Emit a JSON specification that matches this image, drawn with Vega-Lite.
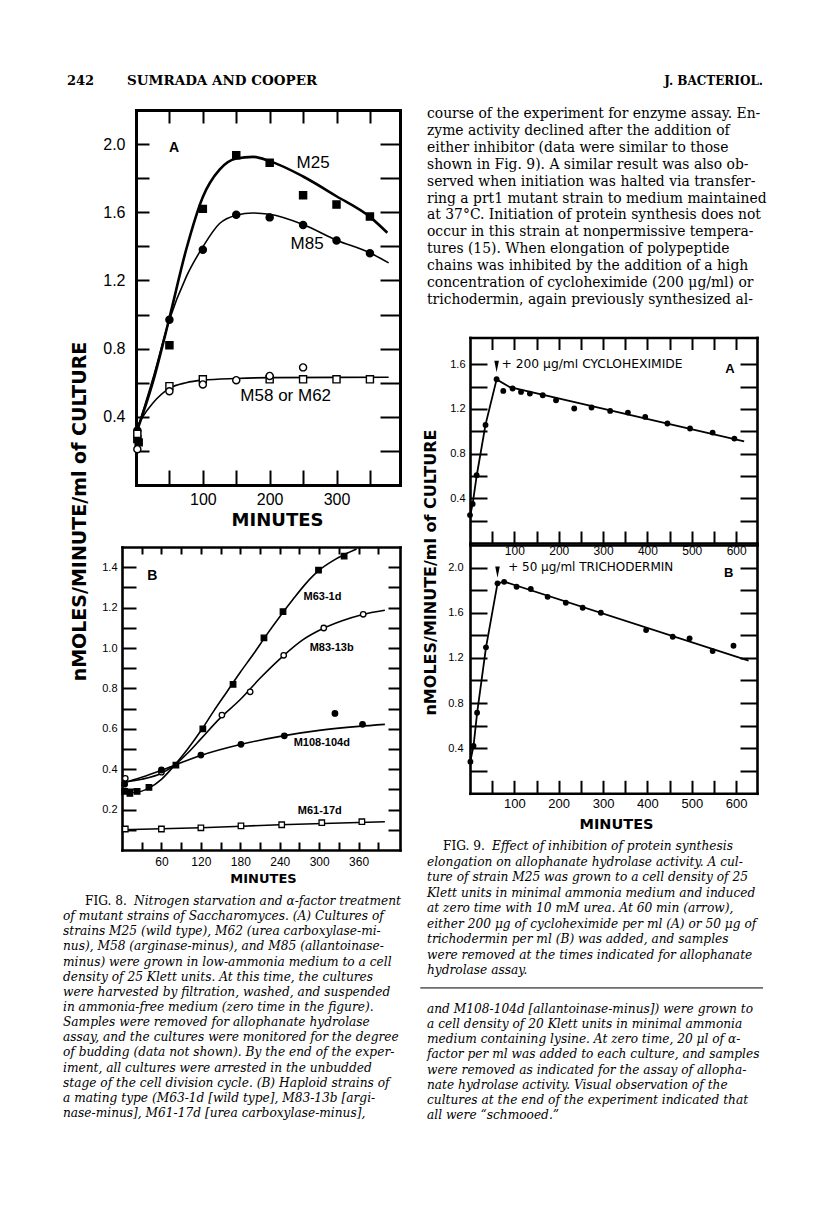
{
  "$schema": "https://vega.github.io/schema/vega-lite/v6.json",
  "width": 816,
  "height": 1232,
  "autosize": {"type": "none"},
  "padding": 0,
  "background": "white",
  "config": {
    "view": {"stroke": null},
    "axis": {"grid": false, "domainColor": "black", "tickColor": "black", "labelColor": "black", "titleColor": "black", "labelFont": "Liberation Sans", "labelOverlap": false, "labelFlush": false, "domainCap": "square"}
  },
  "datasets": {
    "f8a_pts": [
      {"series": "M25", "t": 2, "v": 0.27}, {"series": "M25", "t": 4, "v": 0.25}, {"series": "M25", "t": 50, "v": 0.82}, {"series": "M25", "t": 100, "v": 1.62}, {"series": "M25", "t": 150, "v": 1.935}, {"series": "M25", "t": 200, "v": 1.89}, {"series": "M25", "t": 250, "v": 1.70}, {"series": "M25", "t": 300, "v": 1.645}, {"series": "M25", "t": 350, "v": 1.575},
      {"series": "M85", "t": 2, "v": 0.32}, {"series": "M85", "t": 50, "v": 0.97}, {"series": "M85", "t": 100, "v": 1.38}, {"series": "M85", "t": 150, "v": 1.585}, {"series": "M85", "t": 200, "v": 1.57}, {"series": "M85", "t": 250, "v": 1.525}, {"series": "M85", "t": 300, "v": 1.435}, {"series": "M85", "t": 350, "v": 1.36},
      {"series": "M62", "t": 2, "v": 0.3}, {"series": "M62", "t": 50, "v": 0.58}, {"series": "M62", "t": 100, "v": 0.62}, {"series": "M62", "t": 200, "v": 0.62}, {"series": "M62", "t": 250, "v": 0.62}, {"series": "M62", "t": 300, "v": 0.62}, {"series": "M62", "t": 350, "v": 0.62},
      {"series": "M58", "t": 2, "v": 0.21}, {"series": "M58", "t": 50, "v": 0.55}, {"series": "M58", "t": 100, "v": 0.59}, {"series": "M58", "t": 150, "v": 0.615}, {"series": "M58", "t": 200, "v": 0.64}, {"series": "M58", "t": 250, "v": 0.69}
    ],
    "f8a_fit": [
      {"series": "M25", "t": 0, "v": 0.3}, {"series": "M25", "t": 25, "v": 0.6}, {"series": "M25", "t": 50, "v": 0.98}, {"series": "M25", "t": 75, "v": 1.38}, {"series": "M25", "t": 100, "v": 1.69}, {"series": "M25", "t": 125, "v": 1.85}, {"series": "M25", "t": 150, "v": 1.915}, {"series": "M25", "t": 175, "v": 1.925}, {"series": "M25", "t": 200, "v": 1.9}, {"series": "M25", "t": 250, "v": 1.81}, {"series": "M25", "t": 300, "v": 1.694}, {"series": "M25", "t": 350, "v": 1.573}, {"series": "M25", "t": 376, "v": 1.48},
      {"series": "M85", "t": 0, "v": 0.3}, {"series": "M85", "t": 25, "v": 0.62}, {"series": "M85", "t": 50, "v": 0.97}, {"series": "M85", "t": 75, "v": 1.22}, {"series": "M85", "t": 100, "v": 1.397}, {"series": "M85", "t": 125, "v": 1.534}, {"series": "M85", "t": 150, "v": 1.583}, {"series": "M85", "t": 175, "v": 1.596}, {"series": "M85", "t": 200, "v": 1.588}, {"series": "M85", "t": 250, "v": 1.528}, {"series": "M85", "t": 300, "v": 1.436}, {"series": "M85", "t": 350, "v": 1.362}, {"series": "M85", "t": 378, "v": 1.303},
      {"series": "M58 or M62", "t": 0, "v": 0.33}, {"series": "M58 or M62", "t": 10, "v": 0.4}, {"series": "M58 or M62", "t": 25, "v": 0.48}, {"series": "M58 or M62", "t": 50, "v": 0.567}, {"series": "M58 or M62", "t": 75, "v": 0.6}, {"series": "M58 or M62", "t": 100, "v": 0.615}, {"series": "M58 or M62", "t": 150, "v": 0.625}, {"series": "M58 or M62", "t": 200, "v": 0.63}, {"series": "M58 or M62", "t": 378, "v": 0.632}
    ],
    "f8a_lab": [
      {"text": "M25", "t": 265, "v": 1.889}, {"text": "M85", "t": 256, "v": 1.411}, {"text": "M58 or M62", "t": 224, "v": 0.522}
    ],
    "f8a_letter": [{"text": "A", "t": 57, "v": 1.98}],
    "f8b_pts": [
      {"series": "M63-1d", "t": 4, "v": 0.29}, {"series": "M63-1d", "t": 12, "v": 0.28}, {"series": "M63-1d", "t": 23, "v": 0.29}, {"series": "M63-1d", "t": 41, "v": 0.31}, {"series": "M63-1d", "t": 82, "v": 0.42}, {"series": "M63-1d", "t": 123, "v": 0.6}, {"series": "M63-1d", "t": 169, "v": 0.82}, {"series": "M63-1d", "t": 216, "v": 1.05}, {"series": "M63-1d", "t": 245, "v": 1.18}, {"series": "M63-1d", "t": 299, "v": 1.385}, {"series": "M63-1d", "t": 338, "v": 1.455},
      {"series": "M83-13b", "t": 5, "v": 0.355}, {"series": "M83-13b", "t": 60, "v": 0.385}, {"series": "M83-13b", "t": 152, "v": 0.668}, {"series": "M83-13b", "t": 195, "v": 0.783}, {"series": "M83-13b", "t": 246, "v": 0.964}, {"series": "M83-13b", "t": 307, "v": 1.099}, {"series": "M83-13b", "t": 367, "v": 1.167},
      {"series": "M108-104d", "t": 4, "v": 0.326}, {"series": "M108-104d", "t": 60, "v": 0.396}, {"series": "M108-104d", "t": 120, "v": 0.47}, {"series": "M108-104d", "t": 181, "v": 0.523}, {"series": "M108-104d", "t": 247, "v": 0.565}, {"series": "M108-104d", "t": 324, "v": 0.676}, {"series": "M108-104d", "t": 366, "v": 0.622},
      {"series": "M61-17d", "t": 5, "v": 0.104}, {"series": "M61-17d", "t": 60, "v": 0.104}, {"series": "M61-17d", "t": 120, "v": 0.11}, {"series": "M61-17d", "t": 181, "v": 0.119}, {"series": "M61-17d", "t": 243, "v": 0.125}, {"series": "M61-17d", "t": 304, "v": 0.135}, {"series": "M61-17d", "t": 365, "v": 0.14}
    ],
    "f8b_fit": [
      {"series": "M63-1d", "t": 0, "v": 0.29}, {"series": "M63-1d", "t": 20, "v": 0.285}, {"series": "M63-1d", "t": 40, "v": 0.305}, {"series": "M63-1d", "t": 60, "v": 0.35}, {"series": "M63-1d", "t": 80, "v": 0.42}, {"series": "M63-1d", "t": 100, "v": 0.5}, {"series": "M63-1d", "t": 120, "v": 0.59}, {"series": "M63-1d", "t": 140, "v": 0.69}, {"series": "M63-1d", "t": 160, "v": 0.785}, {"series": "M63-1d", "t": 180, "v": 0.88}, {"series": "M63-1d", "t": 200, "v": 0.97}, {"series": "M63-1d", "t": 220, "v": 1.065}, {"series": "M63-1d", "t": 240, "v": 1.155}, {"series": "M63-1d", "t": 260, "v": 1.24}, {"series": "M63-1d", "t": 280, "v": 1.32}, {"series": "M63-1d", "t": 300, "v": 1.385}, {"series": "M63-1d", "t": 320, "v": 1.43}, {"series": "M63-1d", "t": 340, "v": 1.465}, {"series": "M63-1d", "t": 357, "v": 1.49},
      {"series": "M83-13b", "t": 0, "v": 0.335}, {"series": "M83-13b", "t": 30, "v": 0.35}, {"series": "M83-13b", "t": 60, "v": 0.38}, {"series": "M83-13b", "t": 80, "v": 0.42}, {"series": "M83-13b", "t": 100, "v": 0.48}, {"series": "M83-13b", "t": 120, "v": 0.55}, {"series": "M83-13b", "t": 150, "v": 0.655}, {"series": "M83-13b", "t": 180, "v": 0.745}, {"series": "M83-13b", "t": 210, "v": 0.85}, {"series": "M83-13b", "t": 245, "v": 0.96}, {"series": "M83-13b", "t": 275, "v": 1.04}, {"series": "M83-13b", "t": 305, "v": 1.095}, {"series": "M83-13b", "t": 335, "v": 1.135}, {"series": "M83-13b", "t": 365, "v": 1.165}, {"series": "M83-13b", "t": 400, "v": 1.187},
      {"series": "M108-104d", "t": 0, "v": 0.33}, {"series": "M108-104d", "t": 30, "v": 0.36}, {"series": "M108-104d", "t": 60, "v": 0.395}, {"series": "M108-104d", "t": 80, "v": 0.42}, {"series": "M108-104d", "t": 120, "v": 0.468}, {"series": "M108-104d", "t": 180, "v": 0.522}, {"series": "M108-104d", "t": 245, "v": 0.565}, {"series": "M108-104d", "t": 300, "v": 0.592}, {"series": "M108-104d", "t": 360, "v": 0.612}, {"series": "M108-104d", "t": 400, "v": 0.622},
      {"series": "M61-17d", "t": 0, "v": 0.1}, {"series": "M61-17d", "t": 120, "v": 0.11}, {"series": "M61-17d", "t": 240, "v": 0.125}, {"series": "M61-17d", "t": 400, "v": 0.14}
    ],
    "f8b_lab": [
      {"text": "M63-1d", "t": 305, "v": 1.253}, {"text": "M83-13b", "t": 319, "v": 1.0}, {"text": "M108-104d", "t": 304, "v": 0.528}, {"text": "M61-17d", "t": 301, "v": 0.193}
    ],
    "f8b_letter": [{"text": "B", "t": 46, "v": 1.355}],
    "f9a_pts": [
      {"t": 0, "v": 0.25}, {"t": 6, "v": 0.35}, {"t": 15, "v": 0.607}, {"t": 35, "v": 1.057}, {"t": 60, "v": 1.466}, {"t": 75, "v": 1.362}, {"t": 96, "v": 1.383}, {"t": 115, "v": 1.353}, {"t": 135, "v": 1.338}, {"t": 164, "v": 1.323}, {"t": 194, "v": 1.278}, {"t": 235, "v": 1.204}, {"t": 274, "v": 1.213}, {"t": 316, "v": 1.183}, {"t": 356, "v": 1.168}, {"t": 395, "v": 1.129}, {"t": 445, "v": 1.07}, {"t": 496, "v": 1.025}, {"t": 547, "v": 0.989}, {"t": 596, "v": 0.935}
    ],
    "f9a_fit": [
      {"t": 0, "v": 0.24}, {"t": 6, "v": 0.35}, {"t": 15, "v": 0.6}, {"t": 35, "v": 1.06}, {"t": 60, "v": 1.465}, {"t": 90, "v": 1.395}, {"t": 618, "v": 0.91}
    ],
    "f9a_arrow": [{"t": 60, "v": 1.58}],
    "f9a_lab": [{"text": "+ 200 μg/ml CYCLOHEXIMIDE", "t": 71, "v": 1.6}],
    "f9a_letter": [{"text": "A", "t": 586, "v": 1.562}],
    "f9b_pts": [
      {"t": 1, "v": 0.28}, {"t": 8, "v": 0.419}, {"t": 16, "v": 0.714}, {"t": 36, "v": 1.293}, {"t": 62, "v": 1.86}, {"t": 77, "v": 1.874}, {"t": 105, "v": 1.83}, {"t": 137, "v": 1.81}, {"t": 175, "v": 1.741}, {"t": 216, "v": 1.688}, {"t": 254, "v": 1.644}, {"t": 295, "v": 1.6}, {"t": 397, "v": 1.446}, {"t": 457, "v": 1.387}, {"t": 495, "v": 1.373}, {"t": 547, "v": 1.26}, {"t": 594, "v": 1.307}
    ],
    "f9b_fit": [
      {"t": 0, "v": 0.27}, {"t": 8, "v": 0.42}, {"t": 16, "v": 0.71}, {"t": 36, "v": 1.29}, {"t": 62, "v": 1.86}, {"t": 77, "v": 1.875}, {"t": 628, "v": 1.175}
    ],
    "f9b_arrow": [{"t": 62, "v": 1.96}],
    "f9b_lab": [{"text": "+ 50 μg/ml TRICHODERMIN", "t": 86, "v": 2.005}],
    "f9b_letter": [{"text": "B", "t": 583, "v": 1.95}],
    "header": [
      {"part": "folio", "text": "242"},
      {"part": "running", "text": "SUMRADA AND COOPER"},
      {"part": "journal", "text": "J. BACTERIOL."}
    ],
    "body_right": [
      {"line": 1, "text": "course of the experiment for enzyme assay. En-"},
      {"line": 2, "text": "zyme activity declined after the addition of"},
      {"line": 3, "text": "either inhibitor (data were similar to those"},
      {"line": 4, "text": "shown in Fig. 9). A similar result was also ob-"},
      {"line": 5, "text": "served when initiation was halted via transfer-"},
      {"line": 6, "text": "ring a prt1 mutant strain to medium maintained"},
      {"line": 7, "text": "at 37°C. Initiation of protein synthesis does not"},
      {"line": 8, "text": "occur in this strain at nonpermissive tempera-"},
      {"line": 9, "text": "tures (15). When elongation of polypeptide"},
      {"line": 10, "text": "chains was inhibited by the addition of a high"},
      {"line": 11, "text": "concentration of cycloheximide (200 μg/ml) or"},
      {"line": 12, "text": "trichodermin, again previously synthesized al-"}
    ],
    "cap8": [
      {"line": 1, "part": "label", "text": "FIG. 8."},
      {"line": 1, "part": "lead", "text": "Nitrogen starvation and α-factor treatment"},
      {"line": 2, "part": "body", "text": "of mutant strains of Saccharomyces. (A) Cultures of"},
      {"line": 3, "part": "body", "text": "strains M25 (wild type), M62 (urea carboxylase-mi-"},
      {"line": 4, "part": "body", "text": "nus), M58 (arginase-minus), and M85 (allantoinase-"},
      {"line": 5, "part": "body", "text": "minus) were grown in low-ammonia medium to a cell"},
      {"line": 6, "part": "body", "text": "density of 25 Klett units. At this time, the cultures"},
      {"line": 7, "part": "body", "text": "were harvested by filtration, washed, and suspended"},
      {"line": 8, "part": "body", "text": "in ammonia-free medium (zero time in the figure)."},
      {"line": 9, "part": "body", "text": "Samples were removed for allophanate hydrolase"},
      {"line": 10, "part": "body", "text": "assay, and the cultures were monitored for the degree"},
      {"line": 11, "part": "body", "text": "of budding (data not shown). By the end of the exper-"},
      {"line": 12, "part": "body", "text": "iment, all cultures were arrested in the unbudded"},
      {"line": 13, "part": "body", "text": "stage of the cell division cycle. (B) Haploid strains of"},
      {"line": 14, "part": "body", "text": "a mating type (M63-1d [wild type], M83-13b [argi-"},
      {"line": 15, "part": "body", "text": "nase-minus], M61-17d [urea carboxylase-minus],"}
    ],
    "cap9": [
      {"line": 1, "part": "label", "text": "FIG. 9."},
      {"line": 1, "part": "lead", "text": "Effect of inhibition of protein synthesis"},
      {"line": 2, "part": "body", "text": "elongation on allophanate hydrolase activity. A cul-"},
      {"line": 3, "part": "body", "text": "ture of strain M25 was grown to a cell density of 25"},
      {"line": 4, "part": "body", "text": "Klett units in minimal ammonia medium and induced"},
      {"line": 5, "part": "body", "text": "at zero time with 10 mM urea. At 60 min (arrow),"},
      {"line": 6, "part": "body", "text": "either 200 μg of cycloheximide per ml (A) or 50 μg of"},
      {"line": 7, "part": "body", "text": "trichodermin per ml (B) was added, and samples"},
      {"line": 8, "part": "body", "text": "were removed at the times indicated for allophanate"},
      {"line": 9, "part": "body", "text": "hydrolase assay."}
    ],
    "cont8": [
      {"line": 1, "text": "and M108-104d [allantoinase-minus]) were grown to"},
      {"line": 2, "text": "a cell density of 20 Klett units in minimal ammonia"},
      {"line": 3, "text": "medium containing lysine. At zero time, 20 μl of α-"},
      {"line": 4, "text": "factor per ml was added to each culture, and samples"},
      {"line": 5, "text": "were removed as indicated for the assay of allopha-"},
      {"line": 6, "text": "nate hydrolase activity. Visual observation of the"},
      {"line": 7, "text": "cultures at the end of the experiment indicated that"},
      {"line": 8, "text": "all were “schmooed.”"}
    ]
  },
  "layer": [
    {
      "layer": [
        {
          "data": {"name": "f8a_fit"},
          "transform": [{"filter": "datum.series === 'M25'"}],
          "mark": {"type": "line", "interpolate": "monotone", "color": "black", "strokeWidth": 2.6},
          "encoding": {
            "x": {"field": "t", "type": "quantitative", "scale": {"domain": [0, 395], "range": [136, 400], "nice": false, "zero": false},
              "axis": {"orient": "top", "offset": -110, "values": [50, 100, 150, 200, 250, 300, 350], "labels": false, "tickSize": -13, "tickWidth": 2, "domainWidth": 3, "title": null}},
            "y": {"field": "v", "type": "quantitative", "scale": {"domain": [0, 2.2], "range": [485, 110], "nice": false, "zero": false},
              "axis": {"orient": "right", "offset": -416, "values": [0.2, 0.4, 0.6, 0.8, 1.0, 1.2, 1.4, 1.6, 1.8, 2.0], "labels": false, "tickSize": -20, "tickWidth": 2, "domainWidth": 3, "title": null}},
            "detail": {"field": "series"}
          }
        },
        {
          "data": {"name": "f8a_fit"},
          "transform": [{"filter": "datum.series !== 'M25'"}],
          "mark": {"type": "line", "interpolate": "monotone", "color": "black", "strokeWidth": 1.6},
          "encoding": {
            "x": {"field": "t", "type": "quantitative", "axis": null},
            "y": {"field": "v", "type": "quantitative", "axis": null},
            "detail": {"field": "series"}
          }
        },
        {
          "data": {"name": "f8a_pts"},
          "mark": {"type": "point", "filled": true, "size": 50, "stroke": "black", "strokeWidth": 1.4, "opacity": 1},
          "encoding": {
            "x": {"field": "t", "type": "quantitative",
              "axis": {"orient": "bottom", "offset": -747, "values": [50, 100, 150, 200, 250, 300, 350], "format": "d", "labelExpr": "datum.value % 100 === 0 ? datum.label : ''", "tickSize": -15, "tickWidth": 2, "labelPadding": 21, "labelFontSize": 16, "domainWidth": 3,
                "title": "MINUTES", "titleFont": "DejaVu Sans", "titleFontSize": 18, "titleFontWeight": "bold", "titleX": 277, "titleY": 40, "titleAlign": "center", "titleBaseline": "alphabetic", "titleAngle": 0}},
            "y": {"field": "v", "type": "quantitative",
              "axis": {"orient": "left", "offset": -136, "values": [0.2, 0.4, 0.6, 0.8, 1.0, 1.2, 1.4, 1.6, 1.8, 2.0], "format": ".1f", "labelExpr": "round(datum.value*10) % 4 === 0 ? datum.label : ''", "tickSize": -13, "tickWidth": 2, "labelPadding": 24, "labelFontSize": 16, "domainWidth": 3,
                "title": "nMOLES/MINUTE/ml of CULTURE", "titleFont": "DejaVu Sans", "titleFontSize": 19, "titleFontWeight": "bold", "titleX": -51, "titleY": 511, "titleAngle": 270, "titleAlign": "center", "titleBaseline": "alphabetic"}},
            "shape": {"field": "series", "type": "nominal", "scale": {"domain": ["M25", "M85", "M62", "M58"], "range": ["square", "circle", "square", "circle"]}, "legend": null},
            "fill": {"field": "series", "type": "nominal", "scale": {"domain": ["M25", "M85", "M62", "M58"], "range": ["black", "black", "white", "white"]}, "legend": null}
          }
        },
        {
          "data": {"name": "f8a_lab"},
          "mark": {"type": "text", "font": "Liberation Sans", "fontSize": 17, "align": "center", "baseline": "middle", "color": "black"},
          "encoding": {
            "x": {"field": "t", "type": "quantitative", "axis": null},
            "y": {"field": "v", "type": "quantitative", "axis": null},
            "text": {"field": "text"}
          }
        },
        {
          "data": {"name": "f8a_letter"},
          "mark": {"type": "text", "font": "Liberation Sans", "fontSize": 14, "fontWeight": "bold", "align": "center", "baseline": "middle", "color": "black"},
          "encoding": {
            "x": {"field": "t", "type": "quantitative", "axis": null},
            "y": {"field": "v", "type": "quantitative", "axis": null},
            "text": {"field": "text"}
          }
        }
      ],
      "resolve": {"axis": {"x": "independent", "y": "independent"}}
    },
    {
      "layer": [
        {
          "data": {"name": "f8b_fit"},
          "mark": {"type": "line", "interpolate": "monotone", "color": "black", "strokeWidth": 1.6},
          "encoding": {
            "x": {"field": "t", "type": "quantitative", "scale": {"domain": [0, 423], "range": [122, 400], "nice": false, "zero": false},
              "axis": {"orient": "top", "offset": -547, "values": [30, 60, 90, 120, 150, 180, 210, 240, 270, 300, 330, 360, 390], "labels": false, "tickSize": -7, "tickWidth": 2, "domainWidth": 2.6, "title": null}},
            "y": {"field": "v", "type": "quantitative", "scale": {"domain": [0, 1.5], "range": [850, 547], "nice": false, "zero": false},
              "axis": {"orient": "right", "offset": -416, "values": [0.1, 0.2, 0.3, 0.4, 0.5, 0.6, 0.7, 0.8, 0.9, 1.0, 1.1, 1.2, 1.3, 1.4], "labels": false, "tickSize": -12, "tickWidth": 2, "domainWidth": 2.6, "title": null}},
            "detail": {"field": "series"}
          }
        },
        {
          "data": {"name": "f8b_pts"},
          "mark": {"type": "point", "filled": true, "size": 30, "stroke": "black", "strokeWidth": 1.3, "opacity": 1},
          "encoding": {
            "x": {"field": "t", "type": "quantitative",
              "axis": {"orient": "bottom", "offset": -382, "values": [30, 60, 90, 120, 150, 180, 210, 240, 270, 300, 330, 360, 390], "format": "d", "labelExpr": "datum.value % 60 === 0 ? datum.label : ''", "tickSize": -8, "tickWidth": 2, "labelPadding": 14, "labelFontSize": 12, "domainWidth": 2.6,
                "title": "MINUTES", "titleFont": "DejaVu Sans", "titleFontSize": 13, "titleFontWeight": "bold", "titleX": 263, "titleY": 32, "titleAlign": "center", "titleBaseline": "alphabetic", "titleAngle": 0}},
            "y": {"field": "v", "type": "quantitative",
              "axis": {"orient": "left", "offset": -122, "values": [0.1, 0.2, 0.3, 0.4, 0.5, 0.6, 0.7, 0.8, 0.9, 1.0, 1.1, 1.2, 1.3, 1.4], "format": ".1f", "labelExpr": "round(datum.value*10) % 2 === 0 ? datum.label : ''", "tickSize": -14, "tickWidth": 2, "labelPadding": 19, "labelFontSize": 11, "domainWidth": 2.6, "title": null}},
            "shape": {"field": "series", "type": "nominal", "scale": {"domain": ["M63-1d", "M83-13b", "M108-104d", "M61-17d"], "range": ["square", "circle", "circle", "square"]}, "legend": null},
            "fill": {"field": "series", "type": "nominal", "scale": {"domain": ["M63-1d", "M83-13b", "M108-104d", "M61-17d"], "range": ["black", "white", "black", "white"]}, "legend": null}
          }
        },
        {
          "data": {"name": "f8b_lab"},
          "mark": {"type": "text", "font": "Liberation Sans", "fontSize": 11, "fontWeight": "bold", "align": "center", "baseline": "middle", "color": "black"},
          "encoding": {
            "x": {"field": "t", "type": "quantitative", "axis": null},
            "y": {"field": "v", "type": "quantitative", "axis": null},
            "text": {"field": "text"}
          }
        },
        {
          "data": {"name": "f8b_letter"},
          "mark": {"type": "text", "font": "Liberation Sans", "fontSize": 14, "fontWeight": "bold", "align": "center", "baseline": "middle", "color": "black"},
          "encoding": {
            "x": {"field": "t", "type": "quantitative", "axis": null},
            "y": {"field": "v", "type": "quantitative", "axis": null},
            "text": {"field": "text"}
          }
        }
      ],
      "resolve": {"axis": {"x": "independent", "y": "independent"}}
    },
    {
      "layer": [
        {
          "data": {"name": "f9a_fit"},
          "mark": {"type": "line", "color": "black", "strokeWidth": 1.8},
          "encoding": {
            "x": {"field": "t", "type": "quantitative", "scale": {"domain": [0, 647], "range": [470, 757], "nice": false, "zero": false},
              "axis": {"orient": "top", "offset": -337.5, "values": [50, 100, 150, 200, 250, 300, 350, 400, 450, 500, 550, 600], "labels": false, "tickSize": -12, "tickWidth": 2, "domainWidth": 2.6, "title": null}},
            "y": {"field": "v", "type": "quantitative", "scale": {"domain": [0, 1.84], "range": [543, 337.5], "nice": false, "zero": false},
              "axis": {"orient": "right", "offset": -59, "values": [0.2, 0.4, 0.6, 0.8, 1.0, 1.2, 1.4, 1.6], "labels": false, "tickSize": -17, "tickWidth": 2, "domainWidth": 2.6, "title": null}}
          }
        },
        {
          "data": {"name": "f9a_pts"},
          "mark": {"type": "point", "filled": true, "shape": "circle", "size": 34, "color": "black", "opacity": 1},
          "encoding": {
            "x": {"field": "t", "type": "quantitative",
              "axis": {"orient": "bottom", "offset": -689, "values": [50, 100, 150, 200, 250, 300, 350, 400, 450, 500, 550, 600], "format": "d", "labelExpr": "datum.value % 100 === 0 ? datum.label : ''", "tickSize": -12, "tickWidth": 2, "labelPadding": 14.5, "labelFontSize": 12, "domainWidth": 2.6, "title": null}},
            "y": {"field": "v", "type": "quantitative",
              "axis": {"orient": "left", "offset": -470, "values": [0.2, 0.4, 0.6, 0.8, 1.0, 1.2, 1.4, 1.6], "format": ".1f", "labelExpr": "round(datum.value*10) % 4 === 0 ? datum.label : ''", "tickSize": -17, "tickWidth": 2, "labelPadding": 22, "labelFontSize": 11, "domainWidth": 2.6,
                "title": "nMOLES/MINUTE/ml of CULTURE", "titleFont": "DejaVu Sans", "titleFontSize": 16, "titleFontWeight": "bold", "titleX": -35, "titleY": 572, "titleAngle": 270, "titleAlign": "center", "titleBaseline": "alphabetic"}}
          }
        },
        {
          "data": {"name": "f9a_arrow"},
          "mark": {"type": "point", "filled": true, "shape": "M-0.4,-1L0.4,-1L0,1Z", "size": 130, "color": "black", "opacity": 1},
          "encoding": {
            "x": {"field": "t", "type": "quantitative", "axis": null},
            "y": {"field": "v", "type": "quantitative", "axis": null}
          }
        },
        {
          "data": {"name": "f9a_lab"},
          "mark": {"type": "text", "font": "DejaVu Sans", "fontSize": 12.3, "align": "left", "baseline": "middle", "color": "black"},
          "encoding": {
            "x": {"field": "t", "type": "quantitative", "axis": null},
            "y": {"field": "v", "type": "quantitative", "axis": null},
            "text": {"field": "text"}
          }
        },
        {
          "data": {"name": "f9a_letter"},
          "mark": {"type": "text", "font": "Liberation Sans", "fontSize": 13, "fontWeight": "bold", "align": "center", "baseline": "middle", "color": "black"},
          "encoding": {
            "x": {"field": "t", "type": "quantitative", "axis": null},
            "y": {"field": "v", "type": "quantitative", "axis": null},
            "text": {"field": "text"}
          }
        }
      ],
      "resolve": {"axis": {"x": "independent", "y": "independent"}}
    },
    {
      "layer": [
        {
          "data": {"name": "f9b_fit"},
          "mark": {"type": "line", "color": "black", "strokeWidth": 1.8},
          "encoding": {
            "x": {"field": "t", "type": "quantitative", "scale": {"domain": [0, 647], "range": [470, 757], "nice": false, "zero": false},
              "axis": {"orient": "top", "offset": -545, "values": [50, 100, 150, 200, 250, 300, 350, 400, 450, 500, 550, 600], "labels": false, "ticks": false, "domainWidth": 2.6, "title": null}},
            "y": {"field": "v", "type": "quantitative", "scale": {"domain": [0, 2.2], "range": [793.3, 545], "nice": false, "zero": false},
              "axis": {"orient": "right", "offset": -59, "values": [0.2, 0.4, 0.6, 0.8, 1.0, 1.2, 1.4, 1.6, 1.8, 2.0], "labels": false, "tickSize": -17, "tickWidth": 2, "domainWidth": 2.6, "title": null}}
          }
        },
        {
          "data": {"name": "f9b_pts"},
          "mark": {"type": "point", "filled": true, "shape": "circle", "size": 34, "color": "black", "opacity": 1},
          "encoding": {
            "x": {"field": "t", "type": "quantitative",
              "axis": {"orient": "bottom", "offset": -438.7, "values": [50, 100, 150, 200, 250, 300, 350, 400, 450, 500, 550, 600], "format": "d", "labelExpr": "datum.value % 100 === 0 ? datum.label : ''", "tickSize": -13, "tickWidth": 2, "labelPadding": 17, "labelFontSize": 13, "domainWidth": 2.6,
                "title": "MINUTES", "titleFont": "DejaVu Sans", "titleFontSize": 14.5, "titleFontWeight": "bold", "titleX": 616, "titleY": 35, "titleAlign": "center", "titleBaseline": "alphabetic", "titleAngle": 0}},
            "y": {"field": "v", "type": "quantitative",
              "axis": {"orient": "left", "offset": -470, "values": [0.2, 0.4, 0.6, 0.8, 1.0, 1.2, 1.4, 1.6, 1.8, 2.0], "format": ".1f", "labelExpr": "round(datum.value*10) % 4 === 0 ? datum.label : ''", "tickSize": -17, "tickWidth": 2, "labelPadding": 24, "labelFontSize": 11, "domainWidth": 2.6, "title": null}}
          }
        },
        {
          "data": {"name": "f9b_arrow"},
          "mark": {"type": "point", "filled": true, "shape": "M-0.4,-1L0.4,-1L0,1Z", "size": 130, "color": "black", "opacity": 1},
          "encoding": {
            "x": {"field": "t", "type": "quantitative", "axis": null},
            "y": {"field": "v", "type": "quantitative", "axis": null}
          }
        },
        {
          "data": {"name": "f9b_lab"},
          "mark": {"type": "text", "font": "DejaVu Sans", "fontSize": 12, "align": "left", "baseline": "middle", "color": "black"},
          "encoding": {
            "x": {"field": "t", "type": "quantitative", "axis": null},
            "y": {"field": "v", "type": "quantitative", "axis": null},
            "text": {"field": "text"}
          }
        },
        {
          "data": {"name": "f9b_letter"},
          "mark": {"type": "text", "font": "Liberation Sans", "fontSize": 13, "fontWeight": "bold", "align": "center", "baseline": "middle", "color": "black"},
          "encoding": {
            "x": {"field": "t", "type": "quantitative", "axis": null},
            "y": {"field": "v", "type": "quantitative", "axis": null},
            "text": {"field": "text"}
          }
        }
      ],
      "resolve": {"axis": {"x": "independent", "y": "independent"}}
    },
    {
      "data": {"name": "header"},
      "layer": [
        {
          "transform": [{"filter": "datum.part === 'folio'"}],
          "mark": {"type": "text", "font": "DejaVu Serif", "fontSize": 13, "fontWeight": "bold", "align": "left", "baseline": "alphabetic", "color": "black"},
          "encoding": {
            "x": {"datum": 0, "type": "quantitative", "scale": {"domain": [0, 1], "range": [67, 763]}, "axis": null},
            "y": {"datum": 0, "type": "quantitative", "scale": {"domain": [0, 1], "range": [85, 100]}, "axis": null},
            "text": {"field": "text"}
          }
        },
        {
          "transform": [{"filter": "datum.part === 'running'"}],
          "mark": {"type": "text", "font": "DejaVu Serif", "fontSize": 13.5, "fontWeight": "bold", "align": "left", "baseline": "alphabetic", "dx": 60, "color": "black"},
          "encoding": {
            "x": {"datum": 0, "type": "quantitative", "axis": null},
            "y": {"datum": 0, "type": "quantitative", "axis": null},
            "text": {"field": "text"}
          }
        },
        {
          "transform": [{"filter": "datum.part === 'journal'"}],
          "mark": {"type": "text", "font": "DejaVu Serif", "fontSize": 12, "fontWeight": "bold", "align": "right", "baseline": "alphabetic", "color": "black"},
          "encoding": {
            "x": {"datum": 1, "type": "quantitative", "axis": null},
            "y": {"datum": 0, "type": "quantitative", "axis": null},
            "text": {"field": "text"}
          }
        }
      ]
    },
    {
      "data": {"name": "body_right"},
      "mark": {"type": "text", "font": "DejaVu Serif", "fontSize": 13.9, "align": "left", "baseline": "alphabetic", "color": "black"},
      "encoding": {
        "x": {"datum": 0, "type": "quantitative", "scale": {"domain": [0, 1], "range": [427, 762]}, "axis": null},
        "y": {"field": "line", "type": "quantitative", "scale": {"domain": [1, 12], "range": [118, 304]}, "axis": null},
        "text": {"field": "text"}
      }
    },
    {
      "data": {"name": "cap8"},
      "layer": [
        {
          "transform": [{"filter": "datum.part === 'label'"}],
          "mark": {"type": "text", "font": "DejaVu Serif", "fontSize": 12.2, "align": "left", "baseline": "alphabetic", "dx": 22, "color": "black"},
          "encoding": {
            "x": {"datum": 0, "type": "quantitative", "scale": {"domain": [0, 1], "range": [63, 401]}, "axis": null},
            "y": {"field": "line", "type": "quantitative", "scale": {"domain": [1, 15], "range": [905, 1117]}, "axis": null},
            "text": {"field": "text"}
          }
        },
        {
          "transform": [{"filter": "datum.part === 'lead'"}],
          "mark": {"type": "text", "font": "DejaVu Serif", "fontSize": 12.2, "fontStyle": "italic", "align": "left", "baseline": "alphabetic", "dx": 71, "color": "black"},
          "encoding": {
            "x": {"datum": 0, "type": "quantitative", "axis": null},
            "y": {"field": "line", "type": "quantitative", "axis": null},
            "text": {"field": "text"}
          }
        },
        {
          "transform": [{"filter": "datum.part === 'body'"}],
          "mark": {"type": "text", "font": "DejaVu Serif", "fontSize": 12.2, "fontStyle": "italic", "align": "left", "baseline": "alphabetic", "color": "black"},
          "encoding": {
            "x": {"datum": 0, "type": "quantitative", "axis": null},
            "y": {"field": "line", "type": "quantitative", "axis": null},
            "text": {"field": "text"}
          }
        }
      ]
    },
    {
      "data": {"name": "cap9"},
      "layer": [
        {
          "transform": [{"filter": "datum.part === 'label'"}],
          "mark": {"type": "text", "font": "DejaVu Serif", "fontSize": 12.2, "align": "left", "baseline": "alphabetic", "dx": 16, "color": "black"},
          "encoding": {
            "x": {"datum": 0, "type": "quantitative", "scale": {"domain": [0, 1], "range": [427, 762]}, "axis": null},
            "y": {"field": "line", "type": "quantitative", "scale": {"domain": [1, 9], "range": [850, 974]}, "axis": null},
            "text": {"field": "text"}
          }
        },
        {
          "transform": [{"filter": "datum.part === 'lead'"}],
          "mark": {"type": "text", "font": "DejaVu Serif", "fontSize": 12.2, "fontStyle": "italic", "align": "left", "baseline": "alphabetic", "dx": 65, "color": "black"},
          "encoding": {
            "x": {"datum": 0, "type": "quantitative", "axis": null},
            "y": {"field": "line", "type": "quantitative", "axis": null},
            "text": {"field": "text"}
          }
        },
        {
          "transform": [{"filter": "datum.part === 'body'"}],
          "mark": {"type": "text", "font": "DejaVu Serif", "fontSize": 12.2, "fontStyle": "italic", "align": "left", "baseline": "alphabetic", "color": "black"},
          "encoding": {
            "x": {"datum": 0, "type": "quantitative", "axis": null},
            "y": {"field": "line", "type": "quantitative", "axis": null},
            "text": {"field": "text"}
          }
        },
        {
          "transform": [{"filter": "datum.line === 9"}],
          "mark": {"type": "rule", "color": "black", "strokeWidth": 1},
          "encoding": {
            "x": {"datum": -0.02, "type": "quantitative", "axis": null},
            "x2": {"datum": 1.003},
            "y": {"datum": 9.9, "type": "quantitative", "axis": null}
          }
        }
      ]
    },
    {
      "data": {"name": "cont8"},
      "mark": {"type": "text", "font": "DejaVu Serif", "fontSize": 12.2, "fontStyle": "italic", "align": "left", "baseline": "alphabetic", "color": "black"},
      "encoding": {
        "x": {"datum": 0, "type": "quantitative", "scale": {"domain": [0, 1], "range": [427, 762]}, "axis": null},
        "y": {"field": "line", "type": "quantitative", "scale": {"domain": [1, 8], "range": [1013, 1119]}, "axis": null},
        "text": {"field": "text"}
      }
    }
  ],
  "resolve": {
    "scale": {"x": "independent", "y": "independent", "fill": "independent", "shape": "independent"},
    "axis": {"x": "independent", "y": "independent"}
  }
}
